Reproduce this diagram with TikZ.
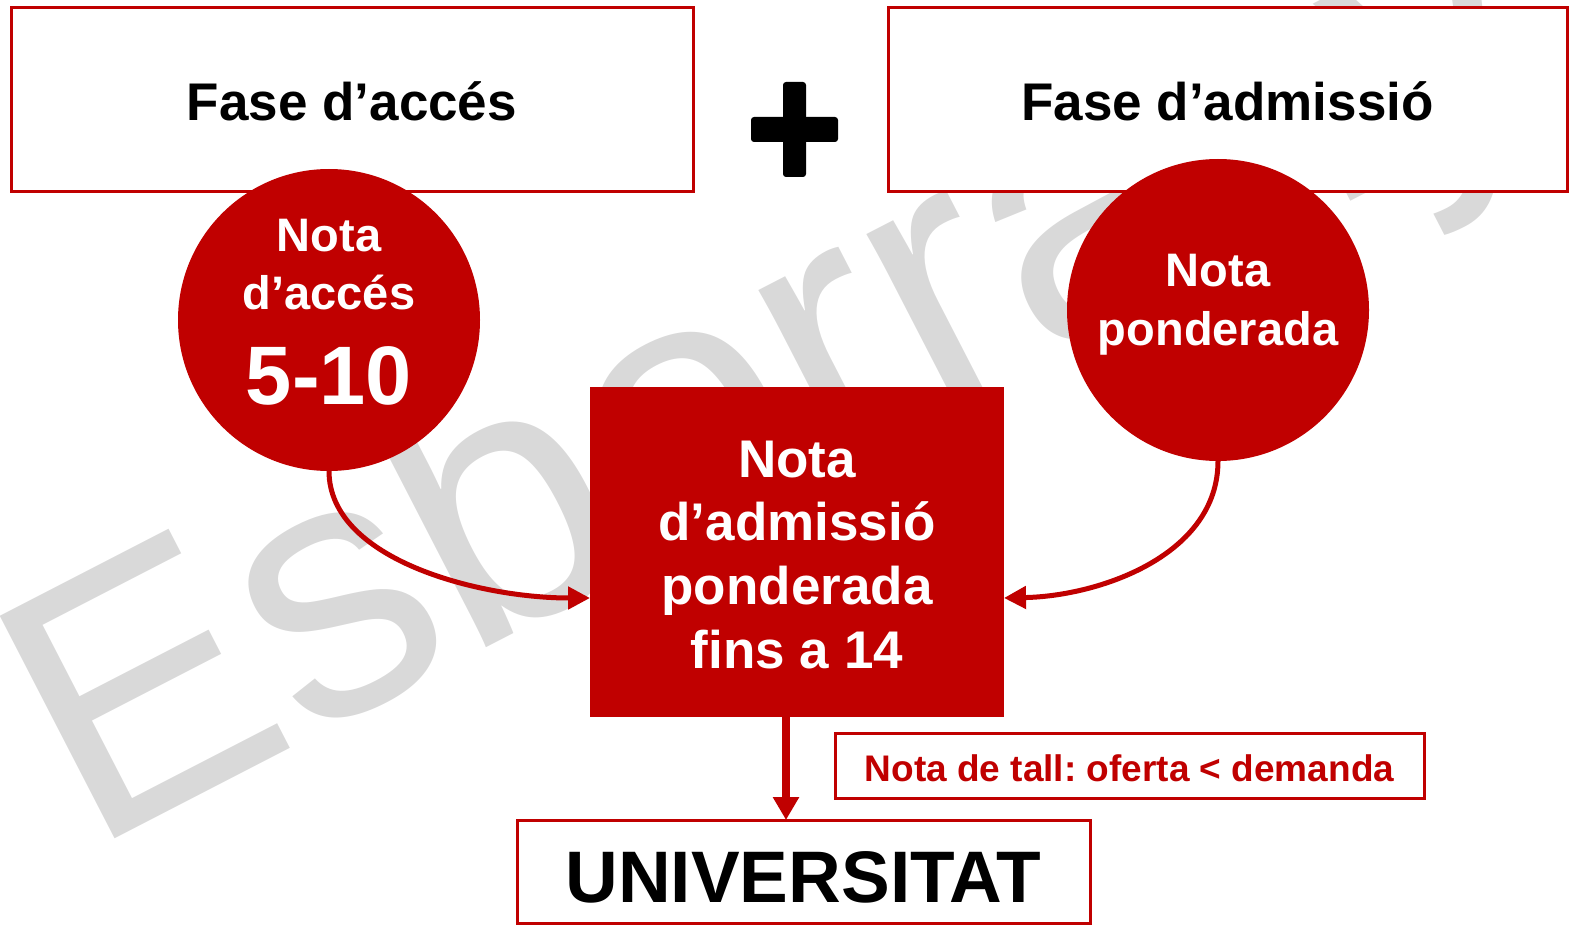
\documentclass[tikz,border=0pt]{standalone}
\usepackage{fontspec}
\setmainfont{Liberation Sans}
\usetikzlibrary{arrows.meta}
\definecolor{myred}{HTML}{C00000}
\definecolor{wmgrey}{HTML}{D9D9D9}
\begin{document}
\frenchspacing
\begin{tikzpicture}[x=0.5pt,y=-0.5pt,
  outbox/.style={draw=myred, line width=1.5pt, fill=white, inner sep=0pt, outer sep=0pt},
  disc/.style={circle, fill=myred, minimum size=151pt, inner sep=0pt, outer sep=0pt},
  redrect/.style={rectangle, fill=myred, inner sep=0pt, outer sep=0pt},
  wtxt/.style={text=white, inner sep=0pt, anchor=base, font=\bfseries\fontsize{23.5pt}{28pt}\selectfont},
  wbig/.style={text=white, inner sep=0pt, anchor=base, font=\bfseries\fontsize{26.5pt}{32pt}\selectfont},
  headtxt/.style={font=\bfseries\fontsize{26.5pt}{32pt}\selectfont, text height=21pt, text depth=0pt},
  curvearrow/.style={draw=myred, line width=2.5pt, -{Triangle[length=11pt,width=11pt]}},
  downarrow/.style={draw=myred, line width=4pt, -{Triangle[length=11.5pt,width=12.5pt]}}
]
\useasboundingbox (0,0) rectangle (1569,925);
% watermark
\node[anchor=base west, rotate=27.3, inner sep=0pt, text=wmgrey,
      font=\fontsize{182pt}{182pt}\selectfont] (wm) at (88,853) {Esborrany};
% top boxes
\node[outbox, headtxt, minimum width=341pt, minimum height=92pt] (b1) at (352,100) {Fase d’accés};
\node[outbox, headtxt, minimum width=339.5pt, minimum height=92pt] (b2) at (1227.5,100) {Fase d’admissió};
% plus sign
\fill[black, rounded corners=1.5pt] (783,82) rectangle (806,177);
\fill[black, rounded corners=1.5pt] (751,117) rectangle (838,142);
% circles
\node[disc] (c1) at (329,320) {};
\node[wtxt] (c1a) at (329,252) {Nota};
\node[wtxt] (c1b) at (329,310) {d’accés};
\node[wtxt, font=\bfseries\fontsize{41.5pt}{48pt}\selectfont] (c1c) at (329,404) {5-10};
\node[disc] (c2) at (1218,310) {};
\node[wtxt] (c2a) at (1218,287) {Nota};
\node[wtxt] (c2b) at (1218,345) {ponderada};
% central rectangle
\node[redrect, minimum width=207pt, minimum height=165pt] (r) at (797,552) {};
\node[wbig] (ra) at (797,477) {Nota};
\node[wbig] (rb) at (797,540.5) {d’admissió};
\node[wbig] (rc) at (797,604.5) {ponderada};
\node[wbig] (rd) at (797,668) {fins a 14};
% bottom boxes
\node[outbox, text=myred, font=\bfseries\fontsize{18.5pt}{22pt}\selectfont, text height=15.5pt, text depth=0pt,
      minimum width=294.5pt, minimum height=32.5pt] (tall) at (1129.5,765.5) {Nota de tall: oferta < demanda};
\node[outbox, font=\bfseries\fontsize{36.5pt}{44pt}\selectfont, text height=30.5pt, text depth=0pt,
      minimum width=286.5pt, minimum height=51.5pt] (u) at (803.5,871.5) {UNIVERSITAT};
% connectors
\draw[curvearrow] (c1.south) .. controls (329,560) and (480,598) .. ([yshift=-23pt]r.west);
\draw[curvearrow] (c2.south) .. controls (1218,555) and (1100,596) .. ([yshift=-23pt]r.east);
\draw[downarrow] ([xshift=-5.5pt]r.south) -- ([xshift=-5.5pt]r.south |- u.north);
\end{tikzpicture}
\end{document}
